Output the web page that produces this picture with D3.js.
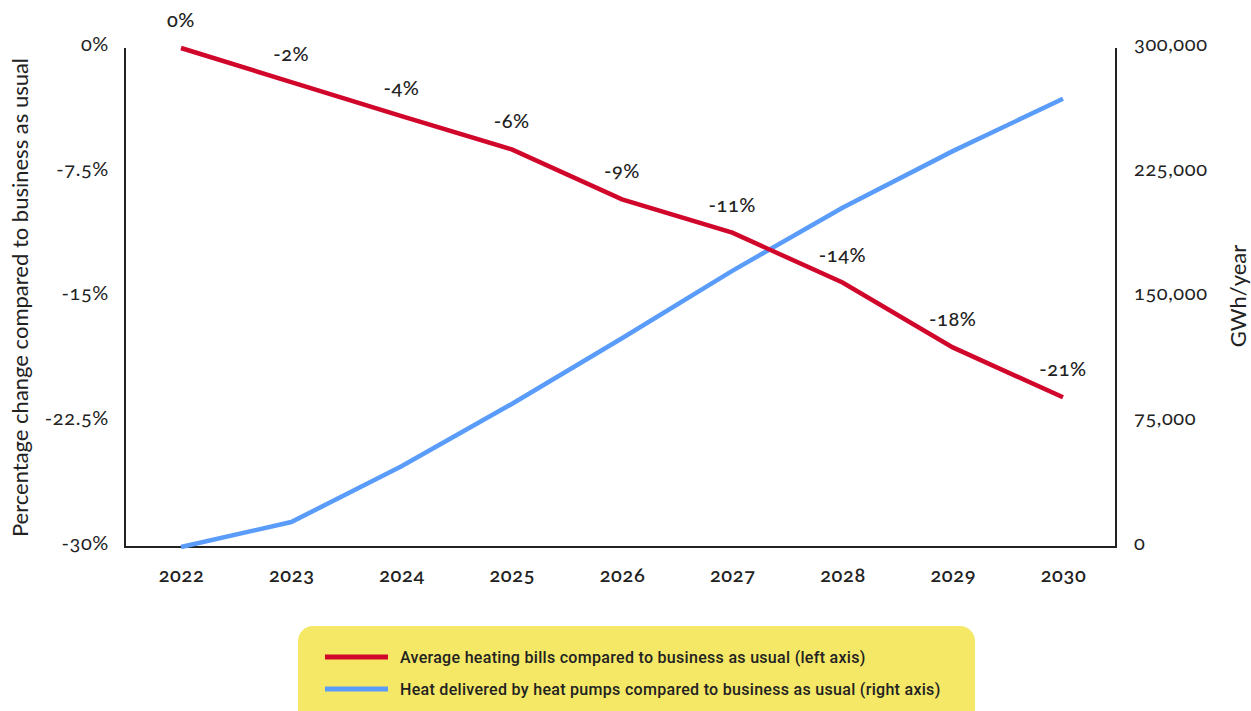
<!DOCTYPE html>
<html>
<head>
<meta charset="utf-8">
<script src="https://cdn.jsdelivr.net/npm/d3@7"></script>
<style>
  html, body { margin: 0; padding: 0; background: #fff; }
  svg text { font-family: Lato, "Open Sans", sans-serif; fill: #222; font-variant-numeric: oldstyle-nums; font-feature-settings: "onum" 1; }
</style>
</head>
<body>
<svg id="chart" width="1251" height="711"></svg>
<script>
const years = [2022, 2023, 2024, 2025, 2026, 2027, 2028, 2029, 2030];
const billChange = [0, -2.05, -4.1, -6.1, -9.1, -11.1, -14.1, -18.0, -21.0];
const billLabels = ["0%", "-2%", "-4%", "-6%", "-9%", "-11%", "-14%", "-18%", "-21%"];
const heatDelivered = [0, 15000, 48500, 86000, 125500, 166000, 204000, 238000, 269500];
const leftTicks = [0, -7.5, -15, -22.5, -30];
const leftTickLabels = ["0%", "-7.5%", "-15%", "-22.5%", "-30%"];
const rightTicks = [0, 75000, 150000, 225000, 300000];
const rightTickLabels = ["0", "75,000", "150,000", "225,000", "300,000"];
const legendItems = [
  "Average heating bills compared to business as usual (left axis)",
  "Heat delivered by heat pumps compared to business as usual (right axis)"
];

const RED = "#d1062b", BLUE = "#5a9cfa", AXIS = "#222";
const svg = d3.select("#chart");
const L = 125, R = 1116, T = 48, B = 547;

const x = d3.scalePoint().domain(years).range([181, 1063]);
const yL = d3.scaleLinear().domain([-30, 0]).range([B, T]);
const yR = d3.scaleLinear().domain([0, 300000]).range([B, T]);

// Axes
const axL = svg.append("g").attr("transform", `translate(${L},0)`)
  .call(d3.axisLeft(yL).tickValues(leftTicks).tickSize(0).tickPadding(16)
    .tickFormat((d, i) => leftTickLabels[i]));
const axR = svg.append("g").attr("transform", `translate(${R},0)`)
  .call(d3.axisRight(yR).tickValues(rightTicks).tickSize(0).tickPadding(18)
    .tickFormat((d, i) => rightTickLabels[i]));
const axB = svg.append("g").attr("transform", `translate(0,${B})`)
  .call(d3.axisBottom(x).tickSize(0).tickPadding(21).tickFormat(d3.format("d")));
[axL, axR, axB].forEach(a => a.select(".domain").remove());
svg.selectAll(".tick text").style("font-size", "20px").style("letter-spacing", "0.6px").attr("fill", "#222");
axL.selectAll(".tick text").attr("dy", "0.12em");
axR.selectAll(".tick text").attr("dy", "0.12em");
axB.selectAll(".tick text").style("font-weight", "600");

svg.append("path")
  .attr("d", `M${L},${T}V${B}H${R}V${T}`)
  .attr("fill", "none").attr("stroke", AXIS).attr("stroke-width", 2);

// Axis titles
svg.append("text")
  .attr("transform", `translate(28,${(T + B) / 2}) rotate(-90)`)
  .attr("text-anchor", "middle").style("font-size", "22px")
  .text("Percentage change compared to business as usual");
svg.append("text")
  .attr("transform", `translate(1246,${296}) rotate(-90)`)
  .attr("text-anchor", "middle").style("font-size", "22px")
  .text("GWh/year");

// Lines
svg.append("path").datum(heatDelivered)
  .attr("fill", "none").attr("stroke", BLUE).attr("stroke-width", 4.5)
  .attr("d", d3.line().x((d, i) => x(years[i])).y(d => yR(d)));
svg.append("path").datum(billChange)
  .attr("fill", "none").attr("stroke", RED).attr("stroke-width", 4.5)
  .attr("d", d3.line().x((d, i) => x(years[i])).y(d => yL(d)));

// Data labels
svg.append("g").selectAll("text").data(billChange).join("text")
  .attr("x", (d, i) => x(years[i]))
  .attr("y", d => yL(d) - 21)
  .attr("text-anchor", "middle")
  .style("font-size", "20px").style("letter-spacing", "0.6px").style("font-weight", "500")
  .text((d, i) => billLabels[i]);

// Legend
const lg = svg.append("g");
lg.append("rect").attr("x", 298).attr("y", 626).attr("width", 677).attr("height", 100)
  .attr("rx", 15).attr("fill", "#f4e866");
const lc = [RED, BLUE];
legendItems.forEach((t, i) => {
  const yy = 657 + i * 32;
  lg.append("line").attr("x1", 325).attr("x2", 388).attr("y1", yy).attr("y2", yy)
    .attr("stroke", lc[i]).attr("stroke-width", 5);
  lg.append("text").attr("x", 400).attr("y", yy + 6)
    .style("font-size", "16px").style("font-family", "Roboto, sans-serif")
    .style("font-weight", "500").style("letter-spacing", "0.3px")
    .text(t);
});
</script>
</body>
</html>
